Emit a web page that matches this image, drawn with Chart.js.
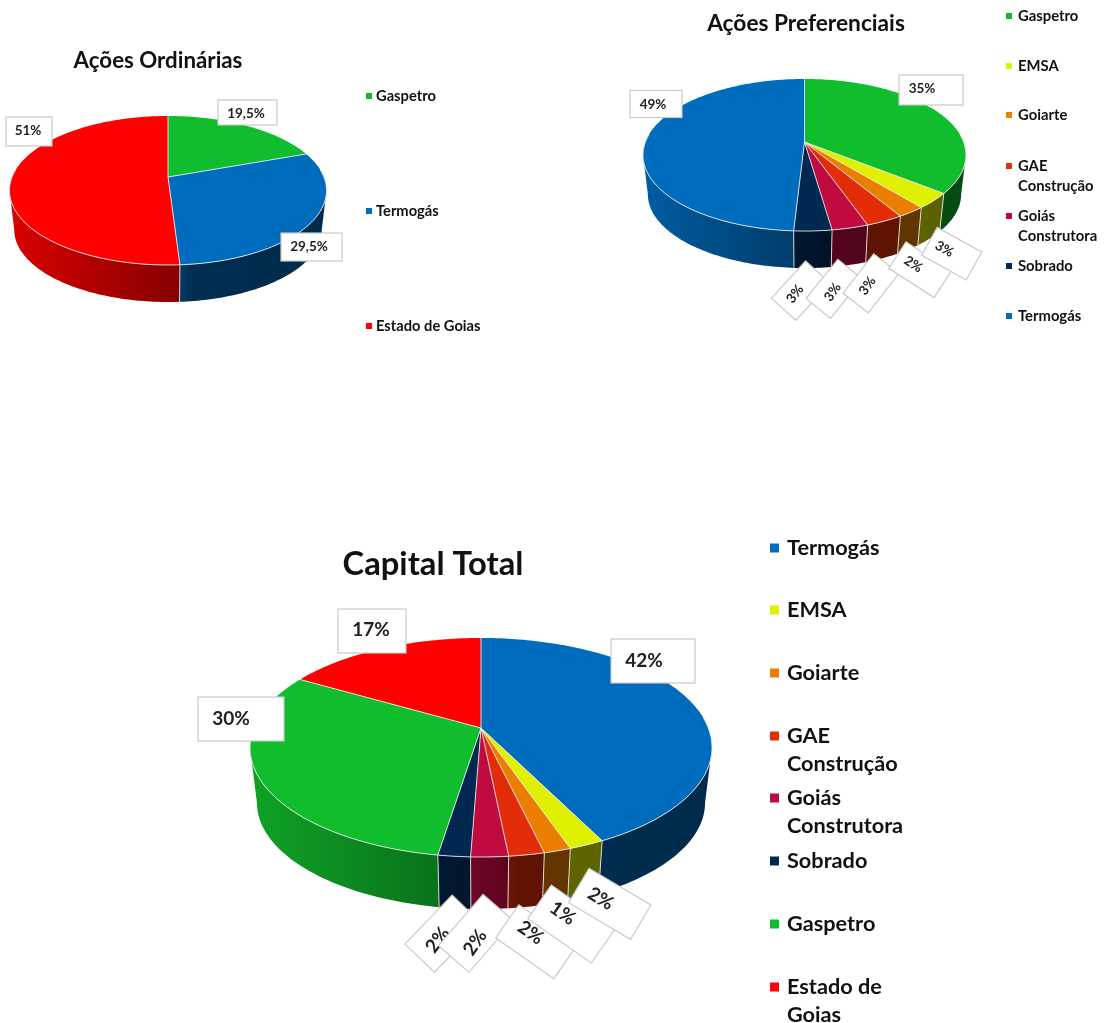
<!DOCTYPE html>
<html>
<head>
<meta charset="utf-8">
<title>Composição acionária</title>
<script src="https://cdn.jsdelivr.net/npm/chart.js@4"></script>
<style>
    html, body { margin: 0; padding: 0; background: #fff; overflow: hidden; width: 1104px; height: 1023px; }
    canvas { position: absolute; left: 0; top: -40px; filter: blur(0.35px); }
</style>
</head>
<body>
<canvas id="chart-ordinarias" width="1104" height="1063"></canvas>
<canvas id="chart-preferenciais" width="1104" height="1063"></canvas>
<canvas id="chart-total" width="1104" height="1063"></canvas>
<script>
// Dados
const ordCategories = ['Gaspetro', 'Termogás', 'Estado de Goias'];
const ordValues = [19.5, 29.5, 51];
const ordLabels = ['19,5%', '29,5%', '51%'];

const prefCategories = ['Gaspetro', 'EMSA', 'Goiarte', 'GAE Construção', 'Goiás Construtora', 'Sobrado', 'Termogás'];
const prefValues = [35.7, 3.3, 2.4, 3.2, 3.1, 3.2, 49.1];
const prefLabels = ['35%', '3%', '2%', '3%', '3%', '3%', '49%'];

const totalCategories = ['Termogás', 'EMSA', 'Goiarte', 'GAE Construção', 'Goiás Construtora', 'Sobrado', 'Gaspetro', 'Estado de Goias'];
const totalValues = [42.6, 2.1, 1.6, 2.1, 2.2, 1.9, 30.8, 16.7];
const totalLabels = ['42%', '2%', '1%', '2%', '2%', '2%', '30%', '17%'];

// Estilos
const companyColors = {
    'Gaspetro': '#10bd2c',
    'Termogás': '#006cbd',
    'Estado de Goias': '#ff0000',
    'EMSA': '#dff000',
    'Goiarte': '#eb7d00',
    'GAE Construção': '#e32d08',
    'Goiás Construtora': '#c00a40',
    'Sobrado': '#002850'
};
const legendWrap = {
    'GAE Construção': ['GAE', 'Construção'],
    'Goiás Construtora': ['Goiás', 'Construtora'],
};
const FONT = 'Lato, "Open Sans", sans-serif';
const BLEED = 40; // os canvas começam 40px acima da página

function shade(hex, f) {
    const n = parseInt(hex.slice(1), 16);
    return `rgb(${Math.round((n >> 16 & 255) * f)},${Math.round((n >> 8 & 255) * f)},${Math.round((n & 255) * f)})`;
}

// Projeção em perspectiva do disco: o centro da pizza fica acima do centro da elipse
function project(arc, p, angle, lower) {
    const u = Math.cos(angle), v = Math.sin(angle);
    const w = 1 + p.persp * v;
    let x = arc.outerRadius * u / w;
    let y = arc.outerRadius * p.tilt * v / w;
    if (lower) {
        const front = arc.outerRadius * p.tilt / (1 + p.persp);
        x *= p.inset;
        y = y * p.inset + p.depth + (1 - p.inset) * front;
    }
    return [arc.x + x, arc.y + y];
}

function tracePath(ctx, arc, p, from, to, lower) {
    const steps = Math.max(2, Math.ceil(Math.abs(to - from) / 0.02));
    for (let i = 0; i <= steps; i++) {
        const pt = project(arc, p, from + (to - from) * i / steps, lower);
        ctx.lineTo(pt[0], pt[1]);
    }
}

function drawWalls(chart, arcs, p) {
    const ctx = chart.ctx;
    const first = arcs[0];
    const left = first.x - first.outerRadius * 1.02;
    const right = first.x + first.outerRadius * 1.02;
    // a parede visível vai de um ponto mais largo da elipse ao outro
    const edge = Math.asin(-p.persp);
    arcs.forEach(arc => {
        const from = Math.max(arc.startAngle, edge);
        const to = Math.min(arc.endAngle, Math.PI - edge);
        if (to <= from) return;
        const color = arc.options.backgroundColor;
        const grad = ctx.createLinearGradient(left, 0, right, 0);
        grad.addColorStop(0, shade(color, 0.86));
        grad.addColorStop(0.54, shade(color, 0.52));
        grad.addColorStop(0.58, shade(color, 0.43));
        grad.addColorStop(1, shade(color, 0.4));
        ctx.beginPath();
        tracePath(ctx, arc, p, from, to, false);
        tracePath(ctx, arc, p, to, from, true);
        ctx.closePath();
        ctx.fillStyle = grad;
        ctx.fill();
    });
    // Divisões verticais das fatias na parte da frente
    ctx.strokeStyle = 'rgba(235,235,235,0.85)';
    ctx.lineWidth = 1;
    arcs.forEach(arc => {
        if (arc.endAngle <= edge || arc.endAngle >= Math.PI - edge) return;
        const a = project(arc, p, arc.endAngle, false);
        const b = project(arc, p, arc.endAngle, true);
        ctx.beginPath();
        ctx.moveTo(a[0], a[1]);
        ctx.lineTo(b[0], b[1]);
        ctx.stroke();
    });
}

function drawTops(chart, arcs, p) {
    const ctx = chart.ctx;
    arcs.forEach(arc => {
        ctx.beginPath();
        ctx.moveTo(arc.x, arc.y);
        tracePath(ctx, arc, p, arc.startAngle, arc.endAngle, false);
        ctx.closePath();
        ctx.fillStyle = arc.options.backgroundColor;
        ctx.fill();
    });
    ctx.lineWidth = arcs[0].options.borderWidth;
    ctx.strokeStyle = arcs[0].options.borderColor;
    arcs.forEach(arc => {
        const s = project(arc, p, arc.startAngle, false);
        ctx.beginPath();
        ctx.moveTo(arc.x, arc.y);
        ctx.lineTo(s[0], s[1]);
        ctx.stroke();
        // só a borda da frente tem o brilho branco
        const from = Math.max(arc.startAngle, -0.1);
        const to = Math.min(arc.endAngle, Math.PI + 0.1);
        if (to > from) {
            ctx.beginPath();
            tracePath(ctx, arc, p, from, to, false);
            ctx.stroke();
        }
    });
}

function drawBox(ctx, b, text, fontSize) {
    ctx.save();
    ctx.translate(b.x, b.y);
    ctx.rotate((b.rot || 0) * Math.PI / 180);
    ctx.fillStyle = '#fff';
    ctx.strokeStyle = '#c9c9c9';
    ctx.lineWidth = 1.2;
    ctx.fillRect(-b.w / 2, -b.h / 2, b.w, b.h);
    ctx.strokeRect(-b.w / 2, -b.h / 2, b.w, b.h);
    ctx.restore();

    ctx.save();
    ctx.translate(b.tx, b.ty);
    ctx.rotate((b.trot === undefined ? (b.rot || 0) : b.trot) * Math.PI / 180);
    ctx.fillStyle = '#222';
    ctx.font = `bold ${fontSize}px ${FONT}`;
    ctx.textAlign = 'center';
    ctx.textBaseline = 'middle';
    ctx.fillText(text, 0, 0);
    ctx.restore();
}

// Fatias 3D: desenhadas aqui porque o arco nativo é sempre um círculo plano
const pie3dPlugin = {
    id: 'pie3d',
    beforeDatasetsDraw(chart, args, opts) {
        const arcs = chart.getDatasetMeta(0).data;
        drawWalls(chart, arcs, opts);
        drawTops(chart, arcs, opts);
        return false;
    },
    afterDraw(chart, args, opts) {
        const ctx = chart.ctx;
        const ds = chart.data.datasets[0];
        ctx.save();
        ctx.translate(0, BLEED);

        opts.boxOrder.forEach(i => drawBox(ctx, opts.boxes[i], opts.labels[i], opts.labelSize));

        ctx.fillStyle = '#111';
        ctx.font = `bold ${opts.titleSize}px ${FONT}`;
        ctx.textAlign = 'center';
        ctx.textBaseline = 'middle';
        ctx.fillText(opts.title, opts.titleX, opts.titleY);

        ctx.font = `bold ${opts.legendSize}px ${FONT}`;
        ctx.textAlign = 'left';
        chart.data.labels.forEach((name, i) => {
            const y = opts.legendY[i];
            ctx.fillStyle = ds.backgroundColor[i];
            ctx.fillRect(opts.legendX, y - opts.swatch / 2, opts.swatch, opts.swatch);
            ctx.fillStyle = '#111';
            const lines = (opts.wrap && opts.wrap[name]) || legendWrap[name] || [name];
            lines.forEach((line, n) => {
                ctx.fillText(line, opts.legendTextX, y + n * opts.legendLine);
            });
        });
        ctx.restore();
    }
};

function buildPie(id, categories, values, p) {
    const W = 1104, H = 1063;
    const cy = p.apexY + BLEED;
    return new Chart(document.getElementById(id), {
        type: 'pie',
        data: {
            labels: categories,
            datasets: [{
                data: values,
                backgroundColor: categories.map(c => companyColors[c]),
                borderColor: 'rgba(240,240,240,0.85)',
                borderWidth: 1
            }]
        },
        options: {
            responsive: false,
            animation: false,
            layout: {
                padding: {
                    left: p.apexX - p.radius,
                    right: W - p.apexX - p.radius,
                    top: cy - p.radius,
                    bottom: H - cy - p.radius
                }
            },
            plugins: {
                legend: { display: false },
                title: { display: false },
                tooltip: { enabled: false },
                pie3d: p
            }
        },
        plugins: [pie3dPlugin]
    });
}

buildPie('chart-ordinarias', ordCategories, ordValues, {
    apexX: 168, apexY: 177, radius: 156.4,
    persp: -0.181, tilt: 0.4623, depth: 37, inset: 0.97,
    title: 'Ações Ordinárias', titleX: 158, titleY: 61, titleSize: 22.3,
    labels: ordLabels, labelSize: 13.5,
    boxOrder: [0, 1, 2],
    boxes: [
        { x: 247.5, y: 112.5, w: 59, h: 25, tx: 246, ty: 114 },
        { x: 311.5, y: 247, w: 61, h: 28, tx: 309, ty: 247 },
        { x: 29, y: 131.5, w: 46, h: 29, tx: 28, ty: 131 }
    ],
    legendX: 366, legendTextX: 376, swatch: 6, legendSize: 14.7, legendLine: 20,
    legendY: [96, 211, 326]
});

buildPie('chart-preferenciais', prefCategories, prefValues, {
    apexX: 804.5, apexY: 142, radius: 159.6,
    persp: -0.171, tilt: 0.464, depth: 37, inset: 0.97,
    title: 'Ações Preferenciais', titleX: 806, titleY: 24, titleSize: 22.7,
    labels: prefLabels, labelSize: 13.5,
    boxOrder: [5, 4, 3, 2, 1, 0, 6],
    boxes: [
        { x: 931, y: 90, w: 64, h: 30, tx: 922, ty: 89 },
        { x: 951.7, y: 253.7, w: 51, h: 32, rot: 29, tx: 944.3, ty: 249 },
        { x: 920, y: 269.7, w: 54, h: 31.5, rot: 33, tx: 913.3, ty: 264.3 },
        { x: 871, y: 283.3, w: 50, h: 32, rot: -52, tx: 867.3, ty: 286, trot: -55 },
        { x: 834.2, y: 288.8, w: 50.5, h: 31.5, rot: -51, tx: 832.7, ty: 292.3, trot: -55 },
        { x: 800.7, y: 290.7, w: 50.5, h: 33, rot: -47.5, tx: 795, ty: 294, trot: -53 },
        { x: 656, y: 104, w: 52, h: 27, tx: 653, ty: 105 }
    ],
    legendX: 1006, legendTextX: 1018, swatch: 6, legendSize: 14.8, legendLine: 20.5,
    legendY: [16, 66, 115, 166, 216, 266, 316]
});

buildPie('chart-total', totalCategories, totalValues, {
    apexX: 481, apexY: 728, radius: 227.8,
    persp: -0.178, tilt: 0.4665, depth: 52, inset: 0.97,
    title: 'Capital Total', titleX: 433, titleY: 564, titleSize: 32.7,
    labels: totalLabels, labelSize: 19,
    boxOrder: [5, 4, 3, 2, 1, 0, 6, 7],
    boxes: [
        { x: 653, y: 661, w: 84, h: 44, tx: 644, ty: 661 },
        { x: 609.8, y: 903.8, w: 72, h: 40, rot: 30.7, tx: 600.7, ty: 898.7 },
        { x: 571.3, y: 924, w: 77.5, h: 41, rot: 35, tx: 562.7, ty: 913.3 },
        { x: 536.3, y: 941.7, w: 71, h: 40.5, rot: 35, tx: 530.7, ty: 932.7 },
        { x: 476, y: 933.3, w: 68, h: 40.5, rot: -49, tx: 475, ty: 942.7, trot: -55 },
        { x: 443.3, y: 933.7, w: 68, h: 41, rot: -46, tx: 437.7, ty: 940, trot: -53 },
        { x: 241, y: 719, w: 86, h: 44, tx: 231, ty: 719 },
        { x: 372, y: 631, w: 68, h: 44, tx: 371, ty: 630 }
    ],
    legendX: 770, legendTextX: 787, swatch: 9, legendSize: 21.7, legendLine: 28,
    legendY: [548, 610, 673, 736, 798, 861, 924, 987],
    wrap: { 'Estado de Goias': ['Estado de', 'Goias'] }
});
</script>
</body>
</html>
